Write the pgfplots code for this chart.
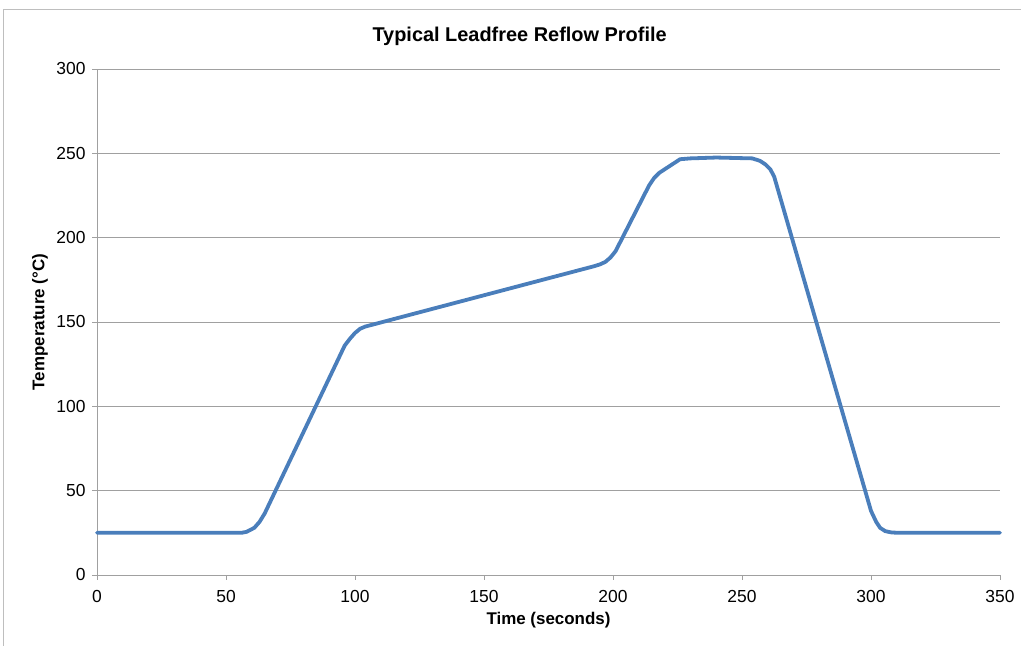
\documentclass[border=0pt]{standalone}
\usepackage{pgfplots}
\pgfplotsset{compat=1.18}
\usepackage{fontspec}
\setmainfont{Liberation Sans}
\definecolor{lineblue}{RGB}{74,126,187}
\definecolor{gridgray}{RGB}{160,160,160}
\definecolor{framegray}{RGB}{190,190,190}
\begin{document}
\begin{tikzpicture}[x=1bp,y=1bp]
\useasboundingbox (0,0) rectangle (1021,646);
\draw[framegray, line width=0.8bp] (3,0) -- (3,637) -- (1021,637);
\begin{axis}[
  at={(97bp,71bp)}, anchor=south west,
  scale only axis, width=903bp, height=506bp,
  xmin=0, xmax=350, ymin=0, ymax=300,
  xtick={0,50,...,350}, ytick={0,50,...,300},
  axis lines*=left,
  axis line style={gridgray, line width=0.9bp},
  tick align=outside, major tick length=5bp,
  tick style={gridgray, line width=0.9bp},
  ymajorgrids, grid style={gridgray, line width=0.9bp},
  /pgf/number format/assume math mode=true,
  tick label style={font=\fontsize{17.5}{20}\selectfont},
  xticklabel style={yshift=-7bp},
  yticklabel style={xshift=-3bp},
  title={Typical Leadfree Reflow Profile},
  title style={font=\fontsize{20}{24}\selectfont\bfseries, at={(axis description cs:0.468,1)}, anchor=center, yshift=27bp},
  xlabel={Time (seconds)},
  xlabel style={font=\fontsize{17}{20}\selectfont\bfseries, at={(axis description cs:0.5,0)}, anchor=center, yshift=-45bp},
  ylabel={Temperature (°C)},
  ylabel style={font=\fontsize{17}{20}\selectfont\bfseries, at={(axis description cs:0,0.5)}, anchor=center, yshift=57bp},
  clip=false,
]
\addplot[lineblue, line width=3.8bp, line join=round, line cap=round] coordinates {
(0,25) (56,25) (58,25.6) (61,28) (63,31.5) (65,36.5)
(96,136) (98,140) (100,143.5) (102,146) (104,147.3) (107,148.5)
(193,183.2) (195,184.2) (197,185.6) (199,188.2) (201,192)
(214,231) (216,235.5) (218,238.5) (221,241.5) (226,246.5) (230,247) (240,247.5) (254,247) (257,245.5) (259,243.5) (261,240.5) (262.5,236)
(300,38) (302,31.5) (303.5,28) (305.5,26) (308,25.2) (311,25) (350,25)
};
\end{axis}
\end{tikzpicture}
\end{document}
